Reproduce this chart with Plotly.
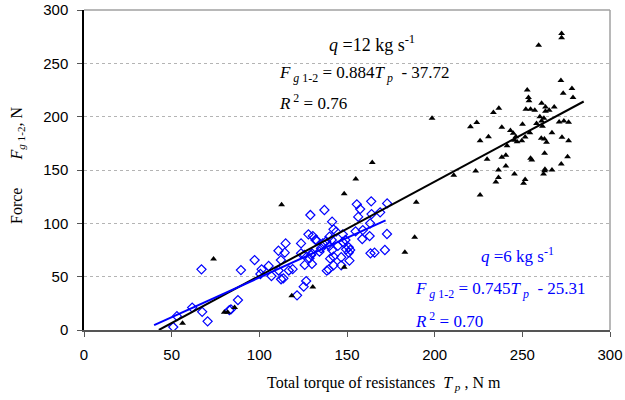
import plotly.graph_objects as go

# q = 12 kg/s (black triangles)
q12_x = [272.4, 272.4, 259.3, 272.0, 252.8, 273.3, 278.3, 278.9, 253.5, 253.8,
         252.0, 254.7, 257.1, 263.2, 263.2, 265.3, 268.2, 261.0, 260.0, 262.3,
         250.1, 258.1, 261.0, 261.5, 271.0, 273.7, 276.4, 243.2, 244.8, 246.3,
         245.5, 247.0, 249.7, 251.6, 254.3, 266.9, 260.8, 262.6, 263.8, 272.6,
         276.4, 262.7, 254.7, 255.4, 275.8, 272.2, 266.9, 262.7, 262.1, 245.5,
         251.6, 250.7, 236.6, 233.5, 220.4, 224.0, 238.3, 225.9, 230.7, 241.3,
         238.3, 240.6, 229.9, 240.6, 236.4, 223.4, 210.9, 236.4, 234.9, 225.9,
         198.5, 164.4, 155.0, 148.4, 189.5, 148.4, 130.5, 112.7, 118.5, 73.9,
         56.2, 80.0, 81.9, 85.9, 188.6, 183.0, 262.9]
q12_y = [278.0, 274.0, 267.0, 234.0, 225.0, 222.0, 226.5, 218.0, 218.0, 215.0,
         207.0, 207.0, 206.0, 209.0, 205.0, 206.0, 209.0, 212.5, 200.0, 198.5,
         193.0, 193.7, 196.0, 191.0, 195.0, 196.0, 194.7, 187.0, 184.4, 181.2,
         178.0, 176.6, 177.5, 181.0, 185.0, 185.0, 179.7, 179.0, 176.0, 180.6,
         177.5, 165.6, 161.0, 159.4, 162.5, 155.6, 150.0, 149.4, 146.2, 146.2,
         141.2, 137.5, 207.8, 203.8, 190.6, 194.6, 190.0, 177.5, 181.2, 172.8,
         161.9, 163.8, 160.0, 153.7, 150.0, 149.0, 145.0, 143.0, 138.7, 126.6,
         198.4, 157.0, 141.5, 127.8, 119.7, 58.8, 40.3, 117.5, 32.2, 66.6,
         6.3, 16.6, 16.6, 21.0, 87.0, 73.0, 150.6]

# q = 6 kg/s (blue diamonds)
q6_x = [50.9, 53.0, 61.7, 67.0, 67.4, 70.5, 82.9, 83.8, 87.8, 89.5,
        97.3, 101.3, 105.3, 106.9, 110.9, 115.0, 114.5, 112.3, 111.0, 112.4,
        113.7, 116.8, 119.0, 100.6, 121.5, 129.1, 123.8, 128.0, 130.5, 132.0,
        123.8, 125.7, 130.0, 128.6, 125.9, 130.0, 126.7, 125.3, 155.6, 157.5,
        163.8, 172.9, 137.1, 156.4, 164.0, 163.2, 168.9, 141.5, 159.0, 154.9,
        158.7, 162.9, 172.8, 142.3, 143.8, 147.6, 140.0, 141.3, 138.1, 136.2,
        132.4, 147.6, 149.1, 151.0, 149.5, 144.8, 134.3, 135.2, 129.5, 140.0,
        141.5, 142.3, 140.4, 146.7, 151.0, 151.8, 151.4, 146.7, 142.3, 139.6,
        138.5, 163.4, 165.7, 171.6]
q6_y = [2.8, 13.0, 21.0, 56.9, 17.0, 8.1, 18.7, 19.4, 28.1, 56.2,
        65.6, 56.9, 60.0, 50.6, 74.3, 81.2, 72.5, 65.6, 55.8, 47.6,
        48.4, 55.8, 57.0, 52.5, 32.5, 107.8, 81.2, 89.7, 88.1, 84.4,
        71.9, 70.3, 71.9, 67.2, 61.0, 61.9, 45.9, 40.6, 117.8, 113.4,
        120.6, 118.7, 112.5, 106.0, 108.7, 100.0, 110.3, 101.6, 93.7, 92.5,
        85.3, 88.1, 90.0, 94.4, 92.2, 89.7, 87.5, 84.4, 83.1, 81.2,
        84.4, 82.5, 84.4, 77.5, 75.6, 78.8, 73.4, 76.6, 70.3, 78.8,
        75.0, 68.8, 66.9, 68.2, 72.5, 75.0, 65.0, 60.6, 60.6, 56.9,
        55.6, 71.9, 72.5, 75.0]

# regression lines
fit12_slope, fit12_icpt = 0.884, -37.72
fit12_x = [42.7, 285.0]
fit6_slope, fit6_icpt = 0.745, -25.31
fit6_x = [40.0, 172.0]

x_ticks = [0, 50, 100, 150, 200, 250, 300]
y_ticks = [0, 50, 100, 150, 200, 250, 300]

SERIF = "Liberation Serif"
SANS = "Liberation Sans"

fig = go.Figure()
fig.add_trace(go.Scatter(x=q6_x, y=q6_y, mode="markers",
                         marker=dict(symbol="diamond-open", size=7, color="#0000FF",
                                     line=dict(width=1.2, color="#0000FF")),
                         showlegend=False))
fig.add_trace(go.Scatter(x=q12_x, y=q12_y, mode="markers",
                         marker=dict(symbol="triangle-up", size=6, color="black"),
                         showlegend=False))
fig.add_trace(go.Scatter(x=fit12_x, y=[fit12_slope * v + fit12_icpt for v in fit12_x],
                         mode="lines", line=dict(color="black", width=2), showlegend=False))
fig.add_trace(go.Scatter(x=fit6_x, y=[fit6_slope * v + fit6_icpt for v in fit6_x],
                         mode="lines", line=dict(color="#0000FF", width=2), showlegend=False))

fs = 17
annots = [
    dict(x=164.3, y=269, text="<i>q</i> =12 kg s<sup>-1</sup>", xanchor="center",
         font=dict(color="black", size=18)),
    dict(x=110.3, y=240, text="<i>F</i><sub><i> g</i> 1-2</sub> = 0.884<i>T</i><sub> <i>p</i></sub>  - 37.72",
         xanchor="left", font=dict(color="black", size=fs)),
    dict(x=110.3, y=213.5, text="<i>R</i><sup> 2</sup> = 0.76", xanchor="left",
         font=dict(color="black", size=fs)),
    dict(x=247, y=70.3, text="<i>q</i> =6 kg s<sup>-1</sup>", xanchor="center",
         font=dict(color="#0000FF", size=fs)),
    dict(x=187.4, y=37.5, text="<i>F</i><sub><i> g</i> 1-2</sub> = 0.745<i>T</i><sub> <i>p</i></sub>  - 25.31",
         xanchor="left", font=dict(color="#0000FF", size=fs)),
    dict(x=187.4, y=9.4, text="<i>R</i><sup> 2</sup> = 0.70", xanchor="left",
         font=dict(color="#0000FF", size=fs)),
]
for a in annots:
    a["font"].update(family=SERIF)
    fig.add_annotation(showarrow=False, yanchor="middle", **a)

L, R, T, B = 84, 15, 10, 70
PW = 625 - L - R
PH = 400 - T - B

# axis titles
fig.add_annotation(xref="paper", yref="paper", x=(384 - L) / PW, y=-(383 - (T + PH)) / PH,
                   text="Total torque of resistances  <i>T</i><sub> <i>p</i></sub> , N m",
                   showarrow=False, xanchor="center", yanchor="middle",
                   font=dict(family=SERIF, size=16, color="black"))
fig.add_annotation(xref="paper", yref="paper", x=(17 - L) / PW, y=((T + PH) - 165) / PH,
                   text="Force\u00a0\u00a0\u00a0\u00a0\u00a0\u00a0\u00a0<i>F</i><sub><i>g</i> 1-2</sub>, N",
                   textangle=-90, showarrow=False, xanchor="center", yanchor="middle",
                   font=dict(family=SERIF, size=16, color="black"))

# frame top/right
fig.add_shape(type="line", xref="paper", yref="paper", x0=0, x1=1, y0=1, y1=1,
              line=dict(color="#a0a0a0", width=1.5))
fig.add_shape(type="line", xref="paper", yref="paper", x0=1, x1=1, y0=0, y1=1,
              line=dict(color="#a0a0a0", width=1.5))

fig.update_layout(
    width=625, height=400,
    margin=dict(l=L, r=R, t=T, b=B, autoexpand=False),
    paper_bgcolor="white", plot_bgcolor="white",
    xaxis=dict(range=[0, 300], tickvals=x_ticks, ticks="outside", ticklen=5,
               tickcolor="#555", showgrid=False, zeroline=False, automargin=False,
               showline=True, linecolor="#555", linewidth=1.5, ticklabelstandoff=5,
               tickfont=dict(family=SANS, size=15, color="black")),
    yaxis=dict(range=[0, 300], tickvals=y_ticks, ticks="outside", ticklen=5,
               tickcolor="#555", showgrid=True, gridcolor="#b4b4b4", griddash="dot",
               gridwidth=1, zeroline=False, automargin=False, ticklabelstandoff=6,
               showline=True, linecolor="black", linewidth=1.5,
               tickfont=dict(family=SANS, size=15, color="black")),
)
fig.write_html("out.html", config={"displayModeBar": False},
               post_script="document.body.style.margin='0';")
